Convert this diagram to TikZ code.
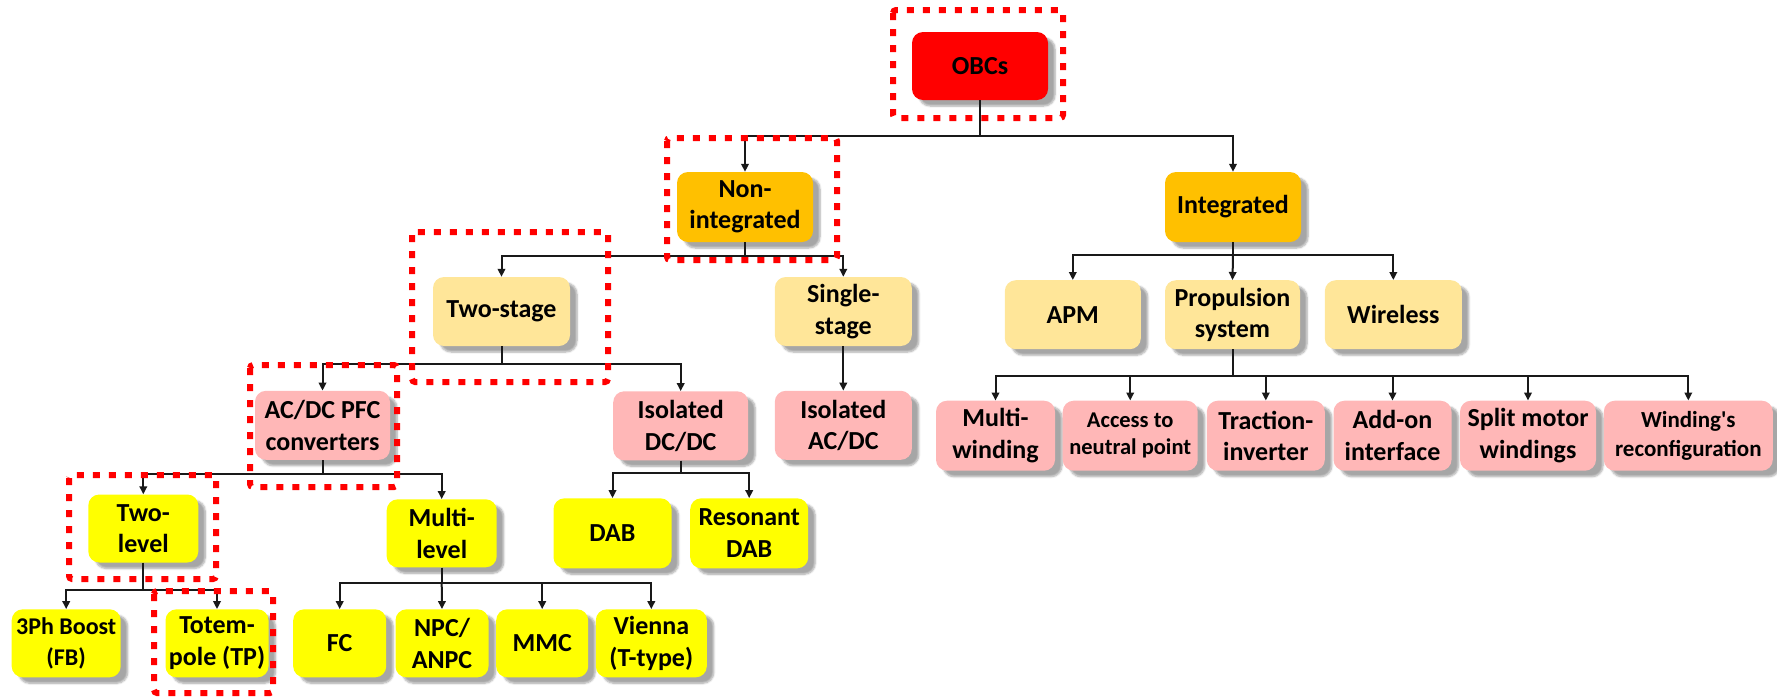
\documentclass[tikz,border=0pt]{standalone}
\usepackage{fontspec}
\setmainfont{Carlito}
\usetikzlibrary{arrows.meta,shadows.blur}

\definecolor{obcred}{HTML}{FF0000}
\definecolor{amber}{HTML}{FFC000}
\definecolor{gold}{HTML}{FFE699}
\definecolor{rose}{HTML}{FFB7B7}
\definecolor{lemon}{HTML}{FFFF00}
\definecolor{hilite}{HTML}{FF0000}

\tikzset{
  box/.style={rounded corners=11pt, align=center, inner sep=0pt,
    font=\bfseries\fontsize{26}{31.5}\selectfont,
    minimum height=69pt,
    blur shadow={shadow xshift=7pt, shadow yshift=-6pt,
      shadow blur steps=6, shadow opacity=35}},
  lvA/.style={box, fill=obcred},
  lvB/.style={box, fill=amber},
  lvC/.style={box, fill=gold},
  lvD/.style={box, fill=rose},
  lvE/.style={box, fill=lemon},
  conn/.style={line width=2pt, draw=black!90,
    -{Triangle[length=8pt,width=7.5pt]}},
  hl/.style={draw=hilite, line width=6pt, dash pattern=on 7pt off 9pt,
    rounded corners=3pt}
}

\begin{document}
\begin{tikzpicture}[x=1pt,y=-1pt]
\useasboundingbox (0,0) rectangle (1777,699);

% bus levels
\coordinate (busA) at (0,136);
\coordinate (busB) at (0,256);
\coordinate (busC) at (0,255);
\coordinate (busD) at (0,364);
\coordinate (busE) at (0,376);
\coordinate (busF) at (0,474);
\coordinate (busG) at (0,473);
\coordinate (busH) at (0,590);
\coordinate (busI) at (0,583);

% root and first level
\node[lvA, minimum width=136pt, minimum height=68pt] (obcs) at (980,66) {OBCs};
\node[lvB, minimum width=136pt, minimum height=70pt] (nonint) at (745,207) {Non-\\integrated};
\node[lvB, minimum width=136pt, minimum height=70pt] (integ) at (1233,207) {Integrated};

% second level
\node[lvC, minimum width=137pt] (twostage) at (501.5,311.5) {Two-stage};
\node[lvC, minimum width=137pt] (single) at (843.3,311.5) {Single-\\stage};
\node[lvC, minimum width=136pt] (apm) at (1072.8,314.7) {APM};
\node[lvC, minimum width=135pt] (prop) at (1232.5,314.7) {Propulsion\\system};
\node[lvC, minimum width=137pt] (wireless) at (1393.3,314.7) {Wireless};

% third level
\node[lvD, minimum width=135pt] (acdc) at (322.5,425.3) {AC/DC PFC\\converters};
\node[lvD, minimum width=135pt] (isodcdc) at (680.7,425.8) {Isolated\\DC/DC};
\node[lvD, minimum width=137pt] (isoacdc) at (843.3,425.3) {Isolated\\AC/DC};

\node[lvD, minimum width=119pt, minimum height=70pt] (mwind) at (995.5,435.7) {Multi-\\winding};
\node[lvD, minimum width=135pt, minimum height=70pt,
  font=\bfseries\fontsize{22.5}{27.5}\selectfont] (access) at (1130.2,435.7) {Access to\\neutral point};
\node[lvD, minimum width=118pt, minimum height=70pt] (traction) at (1265.8,435.7) {Traction-\\inverter};
\node[lvD, minimum width=118pt, minimum height=70pt] (addon) at (1392.5,435.7) {Add-on\\interface};
\node[lvD, minimum width=136pt, minimum height=70pt] (split) at (1528,435.7) {Split motor\\windings};
\node[lvD, minimum width=169pt, minimum height=70pt,
  font=\bfseries\fontsize{23}{28.5}\selectfont] (rewind) at (1688.3,435.7) {Winding\textquotesingle s\\reconfiguration};

% fourth level
\node[lvE, minimum width=110pt, minimum height=68pt] (twolevel) at (143.3,528.5) {Two-\\level};
\node[lvE, minimum width=110pt, minimum height=68pt] (multilevel) at (441.7,533.3) {Multi-\\level};
\node[lvE, minimum width=118pt, minimum height=70pt] (dab) at (612.5,533.3) {DAB};
\node[lvE, minimum width=118pt, minimum height=70pt] (resdab) at (749.2,533.3) {Resonant\\DAB};

% fifth level
\node[lvE, minimum width=109pt, minimum height=68pt,
  font=\bfseries\fontsize{24}{30.5}\selectfont] (boost) at (66.2,643.3) {3Ph Boost\\(FB)};
\node[lvE, minimum width=103pt, minimum height=68pt] (totem) at (217,643.3) {Totem-\\pole (TP)};
\node[lvE, minimum width=93pt, minimum height=68pt] (fc) at (339.7,643.3) {FC};
\node[lvE, minimum width=93pt, minimum height=68pt] (npc) at (442,643.3) {NPC/\\ANPC};
\node[lvE, minimum width=92pt, minimum height=68pt] (mmc) at (542.2,643.3) {MMC};
\node[lvE, minimum width=111pt, minimum height=68pt] (vienna) at (651.3,643.3) {Vienna\\(T-type)};

% connectors
\draw[conn] (obcs.south) -- (obcs.south |- busA) -| (nonint.north);
\draw[conn] (obcs.south |- busA) -| (integ.north);

\draw[conn] (nonint.south) -- (nonint.south |- busB) -| (twostage.north);
\draw[conn] (nonint.south |- busB) -| (single.north);

\draw[conn] (integ.south) -- (integ.south |- busC) -| (apm.north);
\draw[conn] (integ.south |- busC) -- (prop.north);
\draw[conn] (integ.south |- busC) -| (wireless.north);

\draw[conn] (twostage.south) -- (twostage.south |- busD) -| (acdc.north);
\draw[conn] (twostage.south |- busD) -| (isodcdc.north);

\draw[conn] (single.south) -- (isoacdc.north);

\draw[conn] (prop.south) -- (prop.south |- busE) -| (mwind.north);
\draw[conn] (prop.south |- busE) -| (access.north);
\draw[conn] (prop.south |- busE) -| (traction.north);
\draw[conn] (prop.south |- busE) -| (addon.north);
\draw[conn] (prop.south |- busE) -| (split.north);
\draw[conn] (prop.south |- busE) -| (rewind.north);

\draw[conn] (acdc.south) -- (acdc.south |- busF) -| (twolevel.north);
\draw[conn] (acdc.south |- busF) -| (multilevel.north);

\draw[conn] (isodcdc.south) -- (isodcdc.south |- busG) -| (dab.north);
\draw[conn] (isodcdc.south |- busG) -| (resdab.north);

\draw[conn] (twolevel.south) -- (twolevel.south |- busH) -| (boost.north);
\draw[conn] (twolevel.south |- busH) -| (totem.north);

\draw[conn] (multilevel.south) -- (multilevel.south |- busI) -| (fc.north);
\draw[conn] (multilevel.south |- busI) -- (npc.north);
\draw[conn] (multilevel.south |- busI) -| (mmc.north);
\draw[conn] (multilevel.south |- busI) -| (vienna.north);

% highlighted path of the selected topology
\draw[hl] (893,10) rectangle (1063,118);
\draw[hl] (667,138) rectangle (837,260);
\draw[hl] (412,232) rectangle (608,382);
\draw[hl] (250,365) rectangle (397,487);
\draw[hl] (69,475) rectangle (216,579);
\draw[hl] (154,591) rectangle (273,693);
\end{tikzpicture}
\end{document}
